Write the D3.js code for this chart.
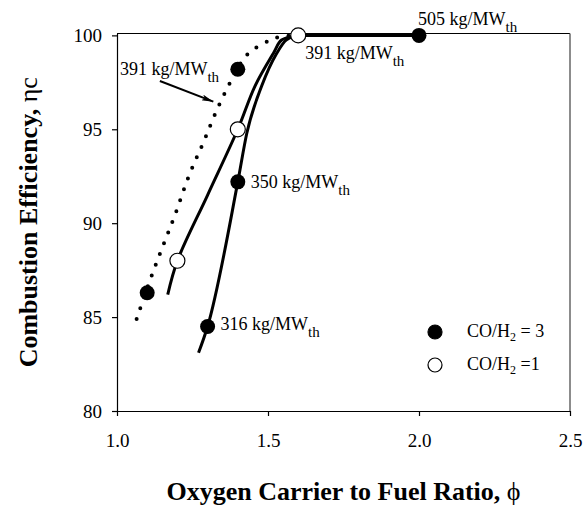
<!DOCTYPE html>
<html>
<head>
<meta charset="utf-8">
<script src="https://cdn.jsdelivr.net/npm/d3@7/dist/d3.min.js"></script>
<style>
  html, body { margin: 0; padding: 0; background: #fff; }
  svg { display: block; font-family: "Liberation Serif", "Times New Roman", serif; }
</style>
</head>
<body>
<svg id="chart" width="585" height="509"></svg>
<script>
// Axis ticks
const xTicks = [1.0, 1.5, 2.0, 2.5];
const yTicks = [80, 85, 90, 95, 100];

// Measured combustion efficiency, CO/H2 = 3 (filled) and CO/H2 = 1 (open)
const pointsCO3 = [[1.1, 86.3], [1.3, 84.5], [1.4, 92.2], [1.4, 98.2], [2.0, 100]];
const pointsCO1 = [[1.2, 88.0], [1.4, 95.0], [1.6, 100]];

// Trend curves
const curve391 = [[1.065, 84.9], [1.11, 87.0], [1.15, 88.7], [1.19, 90.35], [1.24, 92.6], [1.286, 94.3],
                  [1.33, 96.0], [1.385, 97.8], [1.43, 98.96], [1.504, 99.73], [1.55, 99.95], [1.6, 100]];
const curveCO1 = [[1.168, 86.2], [1.2, 88.0], [1.3, 91.5], [1.4, 95.0], [1.457, 97.3], [1.518, 99.05],
                  [1.545, 99.75], [1.6, 100]];
const curveCO3 = [[1.27, 83.1], [1.3, 84.5], [1.4, 92.2], [1.43, 94.8], [1.479, 97.3], [1.529, 99.05],
                  [1.56, 99.75], [1.6, 100], [2.0, 100]];

// Solids inventory labels, anchored at data points
const loadLabels = [
  { value: "316", x: 1.3, y: 84.5, dx: 13, dy: 4 },
  { value: "350", x: 1.4, y: 92.2, dx: 13, dy: 6.5 },
  { value: "505", x: 2.0, y: 100, dx: -1, dy: -10 },
  { value: "391", x: 1.6, y: 100, dx: 7, dy: 24 }
];
// Arrowed label for the dotted curve: tail and head of the arrow
const arrowLabel = { value: "391", tail: [1.142, 97.57], head: [1.319, 96.47] };

const legendItems = [
  { label: "CO/H", sub: "2", tail: " = 3", filled: true },
  { label: "CO/H", sub: "2", tail: " =1", filled: false }
];

const svg = d3.select("#chart");
const plotL = 117, plotR = 570, plotT = 33.5, plotB = 411;

const x = d3.scaleLinear().domain([1.0, 2.5]).range([plotL, plotR]);
const y = d3.scaleLinear().domain([80, 100.1]).range([plotB, plotT]);

// Frame
svg.append("line").attr("x1", plotL).attr("x2", plotR).attr("y1", plotT).attr("y2", plotT)
  .attr("stroke", "#000").attr("stroke-width", 1.2);
svg.append("line").attr("x1", plotR).attr("x2", plotR).attr("y1", plotT).attr("y2", plotB)
  .attr("stroke", "#666").attr("stroke-width", 1.5);

// Axes
const xAxis = svg.append("g").attr("transform", `translate(0,${plotB})`)
  .call(d3.axisBottom(x).tickValues(xTicks).tickFormat(d3.format(".1f")).tickSizeInner(5).tickSizeOuter(0));
const yAxis = svg.append("g").attr("transform", `translate(${plotL},0)`)
  .call(d3.axisLeft(y).tickValues(yTicks).tickFormat(d3.format("d")).tickSizeInner(5).tickSizeOuter(0));
[xAxis, yAxis].forEach(g => {
  g.select(".domain").attr("stroke", "#000").attr("stroke-width", 1.2);
  g.selectAll(".tick line").attr("stroke", "#000").attr("stroke-width", 1.2);
  g.selectAll("text").attr("fill", "#000").attr("font-size", 19)
    .attr("font-family", "Liberation Serif, Times New Roman, serif");
});
xAxis.selectAll("text").attr("dy", null).attr("y", 36);
yAxis.selectAll("text").attr("x", -15).attr("dy", "0.34em");

// Axis titles
svg.append("text").attr("x", (plotL + plotR) / 2).attr("y", 500).attr("text-anchor", "middle")
  .attr("font-size", 26).attr("font-weight", "bold")
  .text("Oxygen Carrier to Fuel Ratio, ")
  .append("tspan").attr("font-weight", "normal").text("\u03D5");
svg.append("text").attr("transform", `translate(37,${(plotT + plotB) / 2}) rotate(-90)`)
  .attr("text-anchor", "middle").attr("font-size", 26).attr("font-weight", "bold")
  .text("Combustion Efficiency, ")
  .append("tspan").attr("font-weight", "normal").text("\u03B7c");

// Curves: smooth splines; the CO/H2 = 3 curve keeps its flat run at 100 without overshoot
const smooth = d3.line().x(d => x(d[0])).y(d => y(d[1])).curve(d3.curveCatmullRom.alpha(0.5));
const flatSafe = d3.line().x(d => x(d[0])).y(d => y(d[1])).curve(d3.curveMonotoneX);
svg.append("path").attr("d", smooth(curve391)).attr("fill", "none").attr("stroke", "#000")
  .attr("stroke-width", 4).attr("stroke-linecap", "round").attr("stroke-dasharray", "0 11.5");
svg.append("path").attr("d", smooth(curveCO1)).attr("fill", "none").attr("stroke", "#000").attr("stroke-width", 3);
svg.append("path").attr("d", flatSafe(curveCO3)).attr("fill", "none").attr("stroke", "#000").attr("stroke-width", 3);

// Markers
svg.append("g").selectAll("circle").data(pointsCO3).join("circle")
  .attr("cx", d => x(d[0])).attr("cy", d => y(d[1])).attr("r", 7.5).attr("fill", "#000");
svg.append("g").selectAll("circle").data(pointsCO1).join("circle")
  .attr("cx", d => x(d[0])).attr("cy", d => y(d[1])).attr("r", 7.5)
  .attr("fill", "#fff").attr("stroke", "#000").attr("stroke-width", 1.2);

// Load labels with subscript "th"
function loadText(g, px, py, value) {
  const t = g.append("text").attr("x", px).attr("y", py).attr("font-size", 18).attr("fill", "#000");
  t.append("tspan").text(value + " kg/MW");
  t.append("tspan").attr("dy", 6.5).attr("font-size", 15).text("th");
}
const labelG = svg.append("g");
loadLabels.forEach(l => loadText(labelG, x(l.x) + l.dx, y(l.y) + l.dy, l.value));

// Arrow annotation
svg.append("defs").append("marker").attr("id", "arrowhead")
  .attr("viewBox", "0 0 12 6").attr("refX", 12).attr("refY", 3)
  .attr("markerWidth", 12).attr("markerHeight", 6).attr("markerUnits", "userSpaceOnUse")
  .attr("orient", "auto")
  .append("path").attr("d", "M0,0 L12,3 L0,6 L3,3 Z").attr("fill", "#000");
svg.append("line")
  .attr("x1", x(arrowLabel.tail[0])).attr("y1", y(arrowLabel.tail[1]))
  .attr("x2", x(arrowLabel.head[0])).attr("y2", y(arrowLabel.head[1]))
  .attr("stroke", "#000").attr("stroke-width", 2).attr("marker-end", "url(#arrowhead)");
loadText(labelG, x(arrowLabel.tail[0]) - 40, y(arrowLabel.tail[1]) - 6, arrowLabel.value);

// Legend
const legend = svg.append("g").attr("transform", "translate(435,332)");
legendItems.forEach((d, i) => {
  const row = legend.append("g").attr("transform", `translate(0,${i * 33})`);
  row.append("circle").attr("r", 7).attr("fill", d.filled ? "#000" : "#fff")
    .attr("stroke", "#000").attr("stroke-width", 1.2);
  const t = row.append("text").attr("x", 32).attr("y", 4.5).attr("font-size", 18).attr("fill", "#000");
  t.append("tspan").text(d.label);
  t.append("tspan").attr("dy", 4).attr("font-size", 12).text(d.sub);
  t.append("tspan").attr("dy", -4).text(d.tail);
});
</script>
</body>
</html>
